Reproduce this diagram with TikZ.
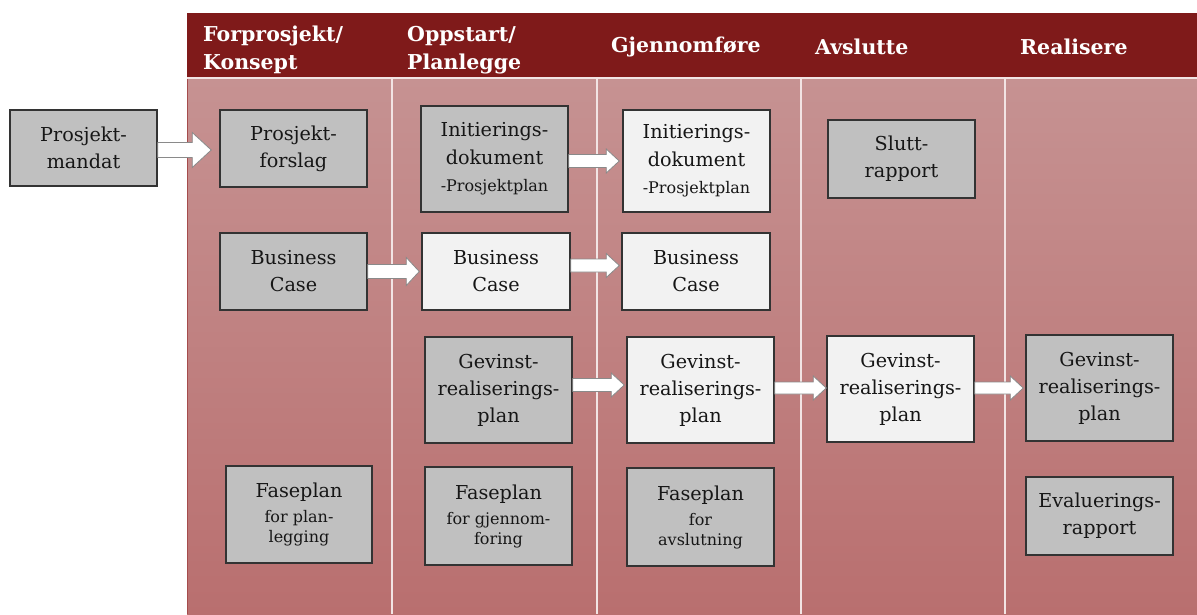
\documentclass[tikz,border=0pt]{standalone}
\usepackage{fontspec}
\setmainfont{DejaVu Serif}
\usetikzlibrary{calc}
\definecolor{hdr}{HTML}{7F1A1A}
\definecolor{coltop}{HTML}{C69292}
\definecolor{colbot}{HTML}{B96F6F}
\definecolor{coledge}{HTML}{A54C4C}
\definecolor{sepline}{HTML}{F2E4E4}
\definecolor{boxgray}{HTML}{C0C0C0}
\definecolor{boxlight}{HTML}{F2F2F2}
\definecolor{boxline}{HTML}{333333}
\definecolor{txt}{HTML}{161616}
\definecolor{arrline}{HTML}{8A8A8A}
\newcommand\mainf{\fontsize{19.2}{27}\selectfont}
\newcommand\smallf{\fontsize{16}{20}\selectfont}
% from, to, yshift (pt, up), shaft half, head half, head length, tip gap
\newcommand\blkarrow[7]{%
  \path[draw=arrline, fill=white, line width=0.8pt] let \p1=(#1.east), \p2=(#2.west) in
    (\x1,\y1+#3+#4) -- (\x2-#7-#6,\y1+#3+#4) -- (\x2-#7-#6,\y1+#3+#5) -- (\x2-#7,\y1+#3)
    -- (\x2-#7-#6,\y1+#3-#5) -- (\x2-#7-#6,\y1+#3-#4) -- (\x1,\y1+#3-#4) -- cycle;}
\begin{document}
\begin{tikzpicture}[x=1pt,y=-1pt,
  box/.style={draw=boxline, line width=1.5pt, minimum width=147pt, minimum height=77pt,
    inner sep=0pt, align=center, font=\mainf, text=txt},
  graybox/.style={box, fill=boxgray},
  lightbox/.style={box, fill=boxlight},
  hdrtext/.style={text=white, font=\bfseries\fontsize{20.5}{27.5}\selectfont, align=left, inner sep=0pt, anchor=west}]
\useasboundingbox (0,0) rectangle (1197,614);
% background
\shade[top color=coltop, bottom color=colbot] (187,79) rectangle (1197,614);
\fill[hdr] (187,13) rectangle (1197,76.5);
\draw[sepline, line width=2pt] (187,77.8) -- (1197,77.8);
\foreach \x in {392,597,801,1005} \draw[sepline, line width=1.8pt] (\x,79) -- (\x,614);
\draw[coledge, line width=1.4pt] (187.7,79) -- (187.7,614);
% headers
\node[hdrtext] (h1) at (203,50) {Forprosjekt/\\Konsept};
\node[hdrtext] (h2) at (407,50) {Oppstart/\\Planlegge};
\node[hdrtext] (h3) at (611,47) {Gjennomføre};
\node[hdrtext] (h4) at (815,47) {Avslutte};
\node[hdrtext] (h5) at (1020,47) {Realisere};
% boxes
\node[graybox, minimum height=76pt] (mandat) at (83.5,148) {Prosjekt-\\mandat};
\node[graybox] (forslag) at (293.5,148.5) {Prosjekt-\\forslag};
\node[graybox, minimum height=106pt] (init1) at (494.5,159) {Initierings-\\[1pt]dokument\\{\smallf -Prosjektplan}};
\node[lightbox, minimum height=102pt] (init2) at (696.5,161) {Initierings-\\[1pt]dokument\\{\smallf -Prosjektplan}};
\node[graybox, minimum height=78pt] (slutt) at (901.5,159) {Slutt-\\rapport};
\node[graybox] (bc1) at (293.5,271.5) {Business\\Case};
\node[lightbox, minimum width=148pt] (bc2) at (496,271.5) {Business\\Case};
\node[lightbox, minimum width=148pt] (bc3) at (696,271.5) {Business\\Case};
\node[graybox, minimum height=106pt] (gev1) at (498.5,390) {Gevinst-\\realiserings-\\plan};
\node[lightbox, minimum height=106pt] (gev2) at (700.5,390) {Gevinst-\\realiserings-\\plan};
\node[lightbox, minimum height=106pt] (gev3) at (900.5,389) {Gevinst-\\realiserings-\\plan};
\node[graybox, minimum height=106pt] (gev4) at (1099.5,388) {Gevinst-\\realiserings-\\plan};
\node[graybox, minimum width=146pt, minimum height=97pt] (fase1) at (299,514.5) {Faseplan\\[-2pt]{\smallf for plan-}\\[-7pt]{\smallf legging}};
\node[graybox, minimum height=98pt] (fase2) at (498.5,516) {Faseplan\\[-2pt]{\smallf for gjennom-}\\[-7pt]{\smallf foring}};
\node[graybox, minimum height=98pt] (fase3) at (700.5,517) {Faseplan\\[-2pt]{\smallf for}\\[-7pt]{\smallf avslutning}};
\node[graybox, minimum height=78pt] (eval) at (1099.5,516) {Evaluerings-\\rapport};
% arrows
\blkarrow{mandat}{forslag}{-2pt}{7.5pt}{17.5pt}{19pt}{8pt}
\blkarrow{init1}{init2}{-2pt}{6.5pt}{12pt}{13pt}{3pt}
\blkarrow{bc1}{bc2}{0pt}{7pt}{14pt}{13pt}{2pt}
\blkarrow{bc2}{bc3}{6pt}{6.5pt}{12pt}{13pt}{2pt}
\blkarrow{gev1}{gev2}{5pt}{6.5pt}{12pt}{13pt}{2pt}
\blkarrow{gev2}{gev3}{2pt}{6pt}{12pt}{13pt}{0pt}
\blkarrow{gev3}{gev4}{1pt}{6pt}{12pt}{13pt}{2pt}
\end{tikzpicture}
\end{document}
